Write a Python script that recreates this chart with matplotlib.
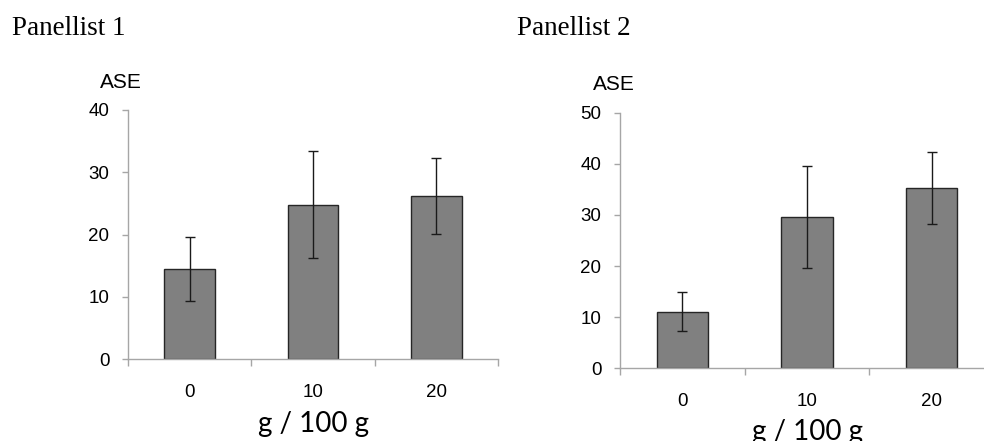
import matplotlib
matplotlib.use("Agg")
import matplotlib.pyplot as plt
import numpy as np

categories = ["0", "10", "20"]
p1_values = [14.5, 24.8, 26.2]
p1_err = [5.2, 8.6, 6.1]
p2_values = [11.1, 29.6, 35.3]
p2_err = [3.8, 10.0, 7.0]
p1_ymax, p1_yticks = 40, [0, 10, 20, 30, 40]
p2_ymax, p2_yticks = 50, [0, 10, 20, 30, 40, 50]
titles = ["Panellist 1", "Panellist 2"]
ylabel = "ASE"
xlabel = "g / 100 g"

W, H = 984, 441
fig = plt.figure(figsize=(W / 100, H / 100), dpi=100)

def px_axes(x0, x1, y_top, y_bot):
    return fig.add_axes([x0 / W, 1 - y_bot / H, (x1 - x0) / W, (y_bot - y_top) / H])

ax1 = px_axes(128, 498, 110, 359.3)
ax2 = px_axes(620, 994, 112.7, 368.3)

spine_col = "#a6a6a6"
for ax, vals, errs, ymax, yt in [(ax1, p1_values, p1_err, p1_ymax, p1_yticks),
                                  (ax2, p2_values, p2_err, p2_ymax, p2_yticks)]:
    x = np.arange(len(categories))
    ax.bar(x, vals, width=0.41, color="#808080", edgecolor="#262626", linewidth=1.0, zorder=2)
    ax.errorbar(x, vals, yerr=errs, fmt="none", ecolor="#1a1a1a", elinewidth=1.0,
                capsize=3.5, capthick=1.0, zorder=3)
    ax.set_xlim(-0.5, len(categories) - 0.5)
    ax.set_ylim(0, ymax)
    ax.set_yticks(yt)
    ax.set_yticklabels([str(v) for v in yt], fontfamily="Liberation Sans", fontsize=13.5)
    ax.set_xticks(np.arange(len(categories) + 1) - 0.5)
    ax.set_xticklabels([])
    ax.set_xticks(x, minor=True)
    ax.set_xticklabels(categories, minor=True, fontfamily="Liberation Sans", fontsize=13.5)
    ax.tick_params(axis="x", which="major", length=5, width=1, color=spine_col, direction="out")
    ax.tick_params(axis="x", which="minor", length=0, pad=18)
    ax.tick_params(axis="y", length=4, width=1, color=spine_col, direction="out", pad=9.5)
    for s in ["top", "right"]:
        ax.spines[s].set_visible(False)
    for s in ["left", "bottom"]:
        ax.spines[s].set_color(spine_col)
        ax.spines[s].set_linewidth(1)

fig.text(100 / W, 1 - 83 / H, ylabel, fontfamily="Liberation Sans", fontsize=15, va="center", ha="left")
fig.text(593 / W, 1 - 84 / H, ylabel, fontfamily="Liberation Sans", fontsize=15, va="center", ha="left")
fig.text(313 / W, 1 - 432 / H, xlabel, fontfamily="Lato", fontsize=20, va="baseline", ha="center")
fig.text(808 / W, 1 - 440 / H, xlabel, fontfamily="Lato", fontsize=20, va="baseline", ha="center")
fig.text(12 / W, 1 - 35 / H, titles[0], fontfamily="Liberation Serif", fontsize=19.5, va="baseline", ha="left")
fig.text(517 / W, 1 - 35 / H, titles[1], fontfamily="Liberation Serif", fontsize=19.5, va="baseline", ha="left")

fig.savefig("out.png", dpi=100)
